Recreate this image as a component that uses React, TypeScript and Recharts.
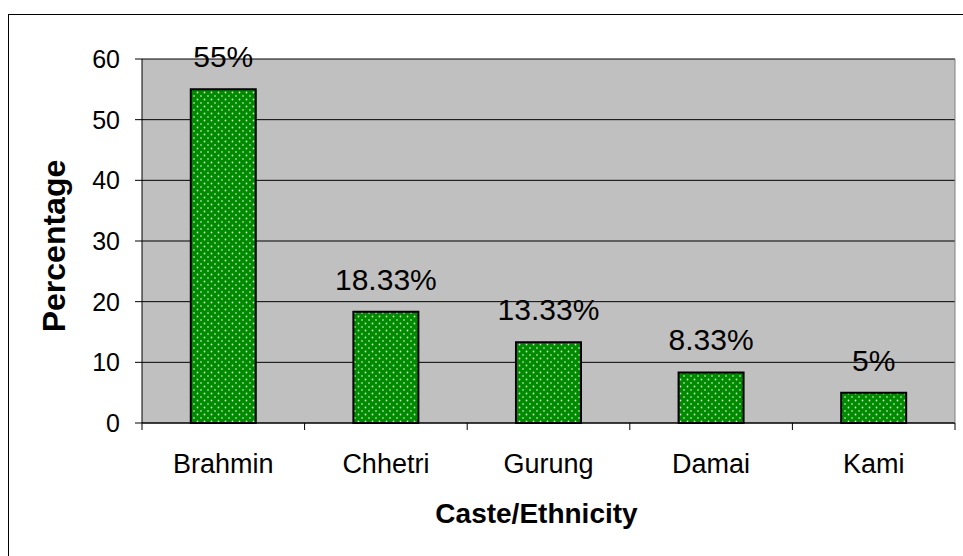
import React from "react";
import {
  BarChart,
  Bar,
  XAxis,
  YAxis,
  CartesianGrid,
  LabelList,
  Label,
} from "recharts";

const castes = ["Brahmin", "Chhetri", "Gurung", "Damai", "Kami"];
const percentages = [55, 18.33, 13.33, 8.33, 5];
const yTicks = [0, 10, 20, 30, 40, 50, 60];

const rows = castes.map((caste, i) => ({ caste, value: percentages[i] }));

const FONT = "'Liberation Sans', Arial, Helvetica, sans-serif";
const TICK_LEN = 7;

// category label centred in its band, with tick marks on the band edges
function CasteTick(props: any) {
  const { x, y, payload, index, visibleTicksCount } = props;
  const half = payload.offset ?? 0;
  const axisY = y - TICK_LEN;
  const isLast = index === visibleTicksCount - 1;
  return (
    <g>
      <line x1={x - half} x2={x - half} y1={axisY} y2={axisY + TICK_LEN} stroke="#000" />
      {isLast && (
        <line x1={x + half} x2={x + half} y1={axisY} y2={axisY + TICK_LEN} stroke="#000" />
      )}
      <text x={x} y={axisY + 50} textAnchor="middle" fontSize={27} fontFamily={FONT} fill="#000">
        {payload.value}
      </text>
    </g>
  );
}

function XTitle({ viewBox }: any) {
  const cx = viewBox.x + viewBox.width / 2 - 12;
  const base = viewBox.y + viewBox.height - 33;
  return (
    <text x={cx} y={base} textAnchor="middle" fontSize={28} fontWeight={700} fontFamily={FONT} fill="#000">
      Caste/Ethnicity
    </text>
  );
}

function YTitle({ viewBox }: any) {
  const cx = viewBox.x + 11;
  const cy = viewBox.y + viewBox.height / 2 + 5;
  return (
    <text
      x={cx}
      y={cy}
      dy="0.36em"
      transform={`rotate(-90, ${cx}, ${cy})`}
      textAnchor="middle"
      fontSize={32}
      fontWeight={700}
      fontFamily={FONT}
      fill="#000"
    >
      Percentage
    </text>
  );
}

export default function App() {
  return (
    <div
      style={{
        position: "absolute",
        left: 0,
        top: 0,
        width: 963,
        height: 556,
        overflow: "hidden",
        background: "#fff",
        fontFamily: FONT,
      }}
    >
      <div
        style={{
          position: "absolute",
          left: 8,
          top: 14,
          width: 2000,
          height: 2000,
          borderLeft: "1px solid #000",
          borderTop: "1px solid #000",
        }}
      />
      <div style={{ position: "absolute", left: 0, top: 0 }}>
        <BarChart
          width={963}
          height={556}
          data={rows}
          margin={{ top: 59, right: 7, bottom: 0, left: 42 }}
          barCategoryGap="30%"
        >
          <defs>
            <pattern id="dots" width="7" height="7" patternUnits="userSpaceOnUse">
              <rect width="7" height="7" fill="#008a00" />
              <circle cx="1.5" cy="1.5" r="0.9" fill="#c8ecc0" />
              <circle cx="5" cy="5" r="0.9" fill="#9fd89a" />
            </pattern>
          </defs>
          <CartesianGrid fill="#c0c0c0" stroke="#000" vertical={false} />
          <XAxis
            dataKey="caste"
            height={133}
            axisLine={{ stroke: "#000" }}
            tickLine={false}
            tickSize={TICK_LEN}
            tickMargin={0}
            tick={<CasteTick />}
            interval={0}
          >
            <Label content={<XTitle />} />
          </XAxis>
          <YAxis
            domain={[0, 60]}
            ticks={yTicks}
            width={100}
            axisLine={{ stroke: "#000" }}
            tickLine={{ stroke: "#000" }}
            tickSize={TICK_LEN}
            tickMargin={15}
            tick={{ fontSize: 25, fontFamily: FONT, fill: "#000" }}
          >
            <Label content={<YTitle />} />
          </YAxis>
          <YAxis
            yAxisId="frame"
            orientation="right"
            width={1}
            axisLine={{ stroke: "#808080" }}
            tick={false}
            tickLine={false}
          />
          <Bar
            dataKey="value"
            fill="url(#dots)"
            stroke="#000"
            strokeWidth={2}
            isAnimationActive={false}
          >
            <LabelList
              dataKey="value"
              position="top"
              offset={22}
              formatter={(v: any) => `${v}%`}
              style={{ fontSize: 30, fontFamily: FONT, fill: "#000" }}
            />
          </Bar>
        </BarChart>
      </div>
    </div>
  );
}
